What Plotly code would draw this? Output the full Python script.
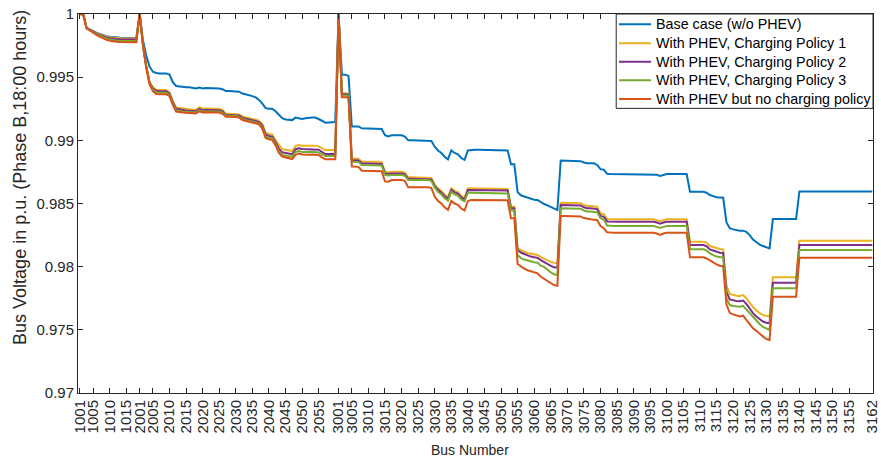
import plotly.graph_objects as go

# Bus numbers (x categories)
bus_g1 = [str(b) for b in range(1001, 1019)]
bus_g2 = [str(b) for b in range(2001, 2061)]
bus_g3 = [str(b) for b in range(3001, 3163)]
buses = bus_g1 + bus_g2 + bus_g3

tick_labels = ["1001", "1005", "1010", "1015",
               "2001", "2005", "2010", "2015", "2020", "2025", "2030", "2035", "2040", "2045", "2050", "2055",
               "3001", "3005", "3010", "3015", "3020", "3025", "3030", "3035", "3040", "3045", "3050", "3055",
               "3060", "3065", "3070", "3075", "3080", "3085", "3090", "3095", "3100", "3105", "3110", "3115",
               "3120", "3125", "3130", "3135", "3140", "3145", "3150", "3155", "3162"]

y_ticks = [0.97, 0.975, 0.98, 0.985, 0.99, 0.995, 1.0]
y_ticktext = ["0.97", "0.975", "0.98", "0.985", "0.99", "0.995", "1"]

x_title = "Bus Number"
y_title = "Bus Voltage in p.u. (Phase B,18:00 hours)"

# ---------------- Base case (w/o PHEV) ----------------
base_g1 = [1.0, 0.99995, 0.9989, 0.9988, 0.99865, 0.9985, 0.9984, 0.9983, 0.99825, 0.9982,
           0.99815, 0.99815, 0.99812, 0.99812, 0.9981, 0.9981, 0.9981, 0.9981]
base_g2 = [1.0, 0.9979, 0.9967, 0.99583, 0.99543, 0.99533, 0.9953, 0.9953, 0.9953, 0.9952,
           0.9946, 0.9943, 0.99425, 0.99422, 0.9942, 0.9942, 0.99415, 0.9941, 0.99418, 0.9941,
           0.99415, 0.99415, 0.99415, 0.99415, 0.9941, 0.99405, 0.9939, 0.9939, 0.9939, 0.9939,
           0.99385, 0.9937, 0.99365, 0.9936, 0.9935, 0.9934, 0.9932, 0.9929, 0.99255, 0.9925,
           0.9925, 0.9923, 0.992, 0.99175, 0.99165, 0.99165, 0.9916, 0.9918, 0.99175, 0.9917,
           0.99175, 0.9918, 0.9918, 0.9918, 0.9917, 0.99155, 0.9914, 0.9914, 0.9914, 0.99145]
base_g3 = [1.0, 0.9952, 0.9952, 0.9951, 0.9911, 0.9911, 0.9911, 0.99095, 0.99095, 0.99095, 0.99095, 0.99095, 0.99095,
           0.9909, 0.9904, 0.9903, 0.9904, 0.99042, 0.99042, 0.9904, 0.9903, 0.99, 0.99, 0.99, 0.99, 0.99, 0.99, 0.99, 0.98995,
           0.9895, 0.9892, 0.989, 0.9887, 0.9885, 0.9892, 0.989, 0.9889, 0.9886, 0.98845,
           0.9892, 0.98925, 0.98925, 0.98925, 0.98925, 0.98925, 0.98925, 0.98924, 0.98923, 0.98922, 0.98921, 0.9892, 0.9892,
           0.9881, 0.9881, 0.9859, 0.98565, 0.98555, 0.98545, 0.98535, 0.9853, 0.98528, 0.9851, 0.98496, 0.98485, 0.98472, 0.98458, 0.98448,
           0.9884, 0.9884, 0.9884, 0.9884, 0.98838, 0.98838, 0.98835, 0.98825, 0.98818, 0.98818, 0.98818, 0.98805, 0.98772, 0.98768, 0.98735,
           0.98733, 0.98733, 0.98733, 0.98733, 0.98733, 0.98733, 0.98733, 0.98733, 0.98733, 0.98733, 0.98733, 0.98733, 0.98733, 0.98733,
           0.98728, 0.98718, 0.98725, 0.98733, 0.98733, 0.98733, 0.98733, 0.98733, 0.98733, 0.98733,
           0.98593, 0.98593, 0.98593, 0.98593, 0.98593, 0.98585, 0.98567, 0.98558, 0.98549, 0.98547, 0.98545,
           0.9835, 0.98304, 0.98295, 0.98288, 0.98285, 0.98285, 0.98275, 0.9825, 0.98215, 0.98195, 0.98175, 0.98163, 0.98152, 0.98145,
           0.98377, 0.98377, 0.98377, 0.98377, 0.98377, 0.98377, 0.98377, 0.98377,
           0.98595, 0.98595, 0.98595, 0.98595, 0.98595, 0.98595, 0.98595, 0.98595, 0.98595, 0.98595, 0.98595, 0.98595,
           0.98595, 0.98595, 0.98595, 0.98595, 0.98595, 0.98595, 0.98595, 0.98595, 0.98595, 0.98595, 0.98595]

# ---------------- Charging Policy 1 ----------------
p1_g1 = [1.0, 0.99995, 0.99888, 0.99878, 0.99862, 0.99847, 0.99836, 0.99826, 0.9982, 0.99815,
         0.9981, 0.9981, 0.99808, 0.99808, 0.99806, 0.99806, 0.99806, 0.99806]
p1_g2 = [1.0, 0.9976, 0.9959, 0.9946, 0.9942, 0.994, 0.99398, 0.99398, 0.99398, 0.9938,
         0.9931, 0.9926, 0.99255, 0.9925, 0.99248, 0.99246, 0.99244, 0.99242, 0.9926, 0.9925,
         0.99252, 0.99252, 0.99252, 0.99252, 0.9925, 0.9924, 0.9921, 0.9921, 0.9921, 0.99208,
         0.99205, 0.99188, 0.9918, 0.99175, 0.9917, 0.99165, 0.99155, 0.9913, 0.9906, 0.9905,
         0.99045, 0.99, 0.9896, 0.9893, 0.98925, 0.9892, 0.98915, 0.98955, 0.98962, 0.98957,
         0.98955, 0.98957, 0.98958, 0.98958, 0.98952, 0.98935, 0.98923, 0.98923, 0.98923, 0.98923]
p1_g3 = [1.0, 0.99372, 0.99372, 0.9937, 0.98858, 0.98858, 0.98855, 0.98831, 0.98831, 0.98831, 0.98831, 0.98831, 0.98831,
         0.98825, 0.98752, 0.98748, 0.98752, 0.98752, 0.98752, 0.98752, 0.98745, 0.98707, 0.98707, 0.98707, 0.98707, 0.98707, 0.98707, 0.98707, 0.98702,
         0.9865, 0.9862, 0.986, 0.9857, 0.9855, 0.9862, 0.986, 0.9859, 0.9856, 0.98545,
         0.9862, 0.9862, 0.9862, 0.9862, 0.9862, 0.9862, 0.9862, 0.9862, 0.9862, 0.9862, 0.9862, 0.9862, 0.98615,
         0.98475, 0.98475, 0.98145, 0.98128, 0.98118, 0.98108, 0.98102, 0.98096, 0.98092, 0.98075, 0.98062, 0.9805, 0.98038, 0.9803, 0.98026,
         0.98506, 0.98506, 0.98506, 0.98506, 0.98506, 0.98506, 0.98503, 0.98488, 0.9848, 0.9848, 0.98478, 0.98474, 0.98422, 0.98415, 0.98377,
         0.98375, 0.98375, 0.98375, 0.98375, 0.98375, 0.98375, 0.98375, 0.98375, 0.98375, 0.98375, 0.98375, 0.98375, 0.98375, 0.98375,
         0.98368, 0.9836, 0.98368, 0.98375, 0.98375, 0.98375, 0.98375, 0.98375, 0.98375, 0.98375,
         0.98198, 0.98198, 0.98198, 0.98198, 0.98198, 0.9819, 0.98163, 0.98155, 0.98145, 0.9814, 0.98137,
         0.9785, 0.97784, 0.97775, 0.9777, 0.97768, 0.97775, 0.9775, 0.97715, 0.9768, 0.97655, 0.97632, 0.97618, 0.97608, 0.97604,
         0.97916, 0.97916, 0.97916, 0.97916, 0.97916, 0.97916, 0.97916, 0.97916,
         0.98205, 0.98205, 0.98205, 0.98205, 0.98205, 0.98205, 0.98205, 0.98205, 0.98205, 0.98205, 0.98205, 0.98205,
         0.98205, 0.98205, 0.98205, 0.98205, 0.98205, 0.98205, 0.98205, 0.98205, 0.98205, 0.98205, 0.98205]

# ---------------- Charging Policy 2 ----------------
p2_g1 = [1.0, 0.99995, 0.99887, 0.99876, 0.9986, 0.99843, 0.99832, 0.99821, 0.99814, 0.99808,
         0.99803, 0.99802, 0.998, 0.998, 0.99798, 0.99798, 0.99798, 0.99798]
p2_g2 = [1.0, 0.99755, 0.99585, 0.99455, 0.99412, 0.99392, 0.99388, 0.99388, 0.99388, 0.9937,
         0.993, 0.9925, 0.99244, 0.99239, 0.99237, 0.99235, 0.99233, 0.99231, 0.99249, 0.99239,
         0.99241, 0.99241, 0.99241, 0.99241, 0.99239, 0.99229, 0.99201, 0.99201, 0.99201, 0.99199,
         0.99196, 0.99178, 0.9917, 0.99165, 0.99159, 0.99154, 0.99144, 0.99115, 0.99045, 0.99035,
         0.9903, 0.98985, 0.98935, 0.98905, 0.989, 0.98895, 0.9889, 0.9893, 0.98937, 0.98931,
         0.9893, 0.98931, 0.98932, 0.98932, 0.98926, 0.98908, 0.98892, 0.98892, 0.98892, 0.98892]
p2_g3 = [1.0, 0.99365, 0.99365, 0.99363, 0.98844, 0.98844, 0.98841, 0.98818, 0.98818, 0.98818, 0.98818, 0.98818, 0.98818,
         0.98812, 0.98738, 0.98734, 0.98738, 0.98738, 0.98738, 0.98738, 0.98731, 0.98695, 0.98695, 0.98695, 0.98695, 0.98695, 0.98695, 0.98695, 0.9869,
         0.98638, 0.98608, 0.98588, 0.98558, 0.98538, 0.98608, 0.98588, 0.98578, 0.98548, 0.98533,
         0.98607, 0.98607, 0.98607, 0.98607, 0.98607, 0.98607, 0.98607, 0.98607, 0.98607, 0.98607, 0.98607, 0.98607, 0.98602,
         0.98462, 0.98462, 0.98132, 0.98112, 0.981, 0.98088, 0.9808, 0.98075, 0.9807, 0.98052, 0.98036, 0.9802, 0.98006, 0.97996, 0.97992,
         0.98488, 0.98488, 0.98488, 0.98488, 0.98488, 0.98488, 0.98485, 0.9847, 0.98462, 0.98462, 0.9846, 0.98456, 0.98402, 0.98395, 0.98358,
         0.98356, 0.98356, 0.98356, 0.98356, 0.98356, 0.98356, 0.98356, 0.98356, 0.98356, 0.98356, 0.98356, 0.98356, 0.98356, 0.98356,
         0.98349, 0.98341, 0.98349, 0.98356, 0.98356, 0.98356, 0.98356, 0.98356, 0.98356, 0.98356,
         0.98171, 0.98171, 0.98171, 0.98171, 0.98171, 0.98162, 0.98137, 0.98128, 0.98117, 0.9811, 0.98108,
         0.978, 0.97741, 0.97732, 0.97728, 0.97726, 0.97732, 0.97706, 0.97668, 0.97632, 0.97606, 0.97582, 0.97566, 0.97556, 0.97551,
         0.97873, 0.97873, 0.97873, 0.97873, 0.97873, 0.97873, 0.97873, 0.97873,
         0.98171, 0.98171, 0.98171, 0.98171, 0.98171, 0.98171, 0.98171, 0.98171, 0.98171, 0.98171, 0.98171, 0.98171,
         0.98171, 0.98171, 0.98171, 0.98171, 0.98171, 0.98171, 0.98171, 0.98171, 0.98171, 0.98171, 0.98171]

# ---------------- Charging Policy 3 ----------------
p3_g1 = [1.0, 0.99995, 0.99887, 0.99875, 0.99857, 0.99838, 0.99826, 0.99814, 0.99806, 0.99798,
         0.99792, 0.9979, 0.99788, 0.99788, 0.99786, 0.99786, 0.99786, 0.99786]
p3_g2 = [1.0, 0.99752, 0.9958, 0.9945, 0.99403, 0.9938, 0.99377, 0.99377, 0.99377, 0.9936,
         0.9929, 0.99238, 0.99232, 0.99229, 0.99227, 0.99225, 0.99223, 0.99221, 0.99239, 0.99229,
         0.99231, 0.99231, 0.99231, 0.99231, 0.99229, 0.99219, 0.99194, 0.99194, 0.99194, 0.99192,
         0.99188, 0.99169, 0.99161, 0.99156, 0.9915, 0.99145, 0.99135, 0.991, 0.9903, 0.9902,
         0.99015, 0.9897, 0.98915, 0.98885, 0.9888, 0.98875, 0.9887, 0.98908, 0.98915, 0.98908,
         0.98906, 0.98908, 0.98909, 0.98909, 0.98904, 0.98889, 0.98876, 0.98876, 0.98876, 0.98876]
p3_g3 = [1.0, 0.99355, 0.99355, 0.99353, 0.98831, 0.98831, 0.98828, 0.98805, 0.98805, 0.98805, 0.98805, 0.98805, 0.98805,
         0.988, 0.98726, 0.98722, 0.98726, 0.98726, 0.98726, 0.98726, 0.9872, 0.98686, 0.98686, 0.98686, 0.98686, 0.98686, 0.98686, 0.98686, 0.9868,
         0.98625, 0.98592, 0.98572, 0.98542, 0.98522, 0.98592, 0.98572, 0.98562, 0.98532, 0.98517,
         0.98585, 0.98585, 0.98585, 0.98585, 0.98585, 0.98585, 0.98585, 0.98585, 0.98585, 0.98585, 0.98585, 0.98585, 0.9858,
         0.98445, 0.98445, 0.98092, 0.98068, 0.98056, 0.98047, 0.9804, 0.98035, 0.98031, 0.98008, 0.97998, 0.97975, 0.97955, 0.9794, 0.97934,
         0.98462, 0.98462, 0.98462, 0.98462, 0.98462, 0.98462, 0.98459, 0.98445, 0.98437, 0.98437, 0.98435, 0.98431, 0.98383, 0.98372, 0.98325,
         0.98322, 0.98322, 0.98322, 0.98322, 0.98322, 0.98322, 0.98322, 0.98322, 0.98322, 0.98322, 0.98322, 0.98322, 0.98322, 0.98322,
         0.98315, 0.98306, 0.98315, 0.98322, 0.98322, 0.98322, 0.98322, 0.98322, 0.98322, 0.98322,
         0.98137, 0.98137, 0.98137, 0.98137, 0.98137, 0.98128, 0.98104, 0.98092, 0.9808, 0.98076, 0.98074,
         0.9775, 0.97696, 0.97688, 0.97684, 0.97683, 0.9769, 0.9766, 0.97628, 0.976, 0.97572, 0.97546, 0.97524, 0.97508, 0.97499,
         0.97829, 0.97829, 0.97829, 0.97829, 0.97829, 0.97829, 0.97829, 0.97829,
         0.98132, 0.98132, 0.98132, 0.98132, 0.98132, 0.98132, 0.98132, 0.98132, 0.98132, 0.98132, 0.98132, 0.98132,
         0.98132, 0.98132, 0.98132, 0.98132, 0.98132, 0.98132, 0.98132, 0.98132, 0.98132, 0.98132, 0.98132]

# ---------------- With PHEV but no charging policy ----------------
np_g1 = [1.0, 0.99995, 0.99887, 0.99873, 0.99853, 0.99832, 0.99818, 0.99805, 0.99795, 0.99788,
         0.99782, 0.9978, 0.99778, 0.99778, 0.99776, 0.99776, 0.99776, 0.99776]
np_g2 = [1.0, 0.9975, 0.9957, 0.9944, 0.9939, 0.99366, 0.99364, 0.99364, 0.99364, 0.9935,
         0.9928, 0.99228, 0.99222, 0.9922, 0.99218, 0.99216, 0.99214, 0.99212, 0.9923, 0.9922,
         0.99222, 0.99222, 0.99222, 0.99222, 0.9922, 0.9921, 0.99187, 0.99187, 0.99187, 0.99185,
         0.9918, 0.9916, 0.99153, 0.99148, 0.99142, 0.99138, 0.99128, 0.9909, 0.99018, 0.99008,
         0.99003, 0.9896, 0.989, 0.98872, 0.98865, 0.98858, 0.98852, 0.98885, 0.98895, 0.98888,
         0.98885, 0.98886, 0.98888, 0.98888, 0.98884, 0.98865, 0.9885, 0.9885, 0.9885, 0.9885]
np_g3 = [1.0, 0.99341, 0.99341, 0.9934, 0.98792, 0.98792, 0.9879, 0.9876, 0.9876, 0.9876, 0.9876, 0.9876, 0.9876,
         0.98755, 0.98675, 0.98673, 0.98686, 0.98686, 0.98686, 0.98686, 0.9868, 0.98628, 0.98628, 0.98628, 0.98628, 0.98628, 0.98628, 0.98628, 0.98622,
         0.98555, 0.9852, 0.985, 0.9847, 0.9845, 0.9852, 0.985, 0.9849, 0.9846, 0.98445,
         0.9852, 0.98528, 0.98528, 0.98528, 0.98528, 0.98528, 0.98528, 0.98528, 0.98528, 0.98528, 0.98528, 0.98528, 0.98525,
         0.98383, 0.98383, 0.98021, 0.98, 0.97985, 0.97972, 0.97965, 0.97955, 0.97947, 0.9792, 0.97902, 0.97885, 0.97868, 0.97855, 0.97849,
         0.98401, 0.98401, 0.98401, 0.98401, 0.98401, 0.98401, 0.98398, 0.98385, 0.98377, 0.98375, 0.98372, 0.98369, 0.98322, 0.98304, 0.98272,
         0.98269, 0.98269, 0.98269, 0.98269, 0.98269, 0.98269, 0.98269, 0.98269, 0.98269, 0.98269, 0.98269, 0.98269, 0.98269, 0.98269,
         0.98262, 0.98252, 0.98262, 0.98269, 0.98269, 0.98269, 0.98269, 0.98269, 0.98269, 0.98269,
         0.98074, 0.98074, 0.98074, 0.98074, 0.98074, 0.98065, 0.98047, 0.98035, 0.98018, 0.98008, 0.98006,
         0.977, 0.97635, 0.97622, 0.97612, 0.97605, 0.97612, 0.97578, 0.97545, 0.97512, 0.97492, 0.97467, 0.97448, 0.97428, 0.97419,
         0.97762, 0.97762, 0.97762, 0.97762, 0.97762, 0.97762, 0.97762, 0.97762,
         0.98071, 0.98071, 0.98071, 0.98071, 0.98071, 0.98071, 0.98071, 0.98071, 0.98071, 0.98071, 0.98071, 0.98071,
         0.98071, 0.98071, 0.98071, 0.98071, 0.98071, 0.98071, 0.98071, 0.98071, 0.98071, 0.98071, 0.98071]

series_names = ["Base case (w/o PHEV)", "With PHEV, Charging Policy 1", "With PHEV, Charging Policy 2",
                "With PHEV, Charging Policy 3", "With PHEV but no charging policy"]
series_values = [base_g1 + base_g2 + base_g3, p1_g1 + p1_g2 + p1_g3, p2_g1 + p2_g2 + p2_g3,
                 p3_g1 + p3_g2 + p3_g3, np_g1 + np_g2 + np_g3]
series_colors = ["#0072BD", "#EDB120", "#7E2F8E", "#77AC30", "#D95319"]

fig = go.Figure()
for name, vals, color in zip(series_names, series_values, series_colors):
    fig.add_trace(go.Scatter(x=buses, y=vals, mode="lines", name=name,
                             line=dict(color=color, width=2)))

axis_color = "#262626"

# MATLAB-style legend box (top-right, inside the axes)
leg_left, leg_right, leg_bottom, leg_top = 0.677, 1.0, 0.751, 1.0
leg_rows = [0.9728, 0.9227, 0.8742, 0.8251, 0.7757]
shapes = [dict(type="rect", xref="x domain", yref="y domain", x0=leg_left, x1=leg_right,
               y0=leg_bottom, y1=leg_top, fillcolor="white",
               line=dict(color=axis_color, width=1), layer="above")]
annotations = []
for name, color, yy in zip(series_names, series_colors, leg_rows):
    shapes.append(dict(type="line", xref="x domain", yref="y domain", x0=0.6805, x1=0.7208,
                       y0=yy, y1=yy, line=dict(color=color, width=2), layer="above"))
    annotations.append(dict(xref="x domain", yref="y domain", x=0.7245, y=yy, text=name,
                            xanchor="left", yanchor="middle", showarrow=False,
                            font=dict(size=14.3, color="#000000")))

# axis titles (placed like the MATLAB figure)
annotations.append(dict(xref="x domain", yref="y domain", x=0.4931, y=-0.1504, text=x_title,
                        xanchor="center", yanchor="middle", showarrow=False,
                        font=dict(size=14, color=axis_color)))
annotations.append(dict(xref="x domain", yref="y domain", x=-0.0730, y=0.570, text=y_title,
                        textangle=-90, xanchor="center", yanchor="middle", showarrow=False,
                        font=dict(size=18, color=axis_color)))

fig.update_layout(
    width=881, height=459,
    margin=dict(l=78, r=8, t=14, b=66),
    paper_bgcolor="white", plot_bgcolor="white",
    font=dict(family="Liberation Sans, Arial, sans-serif", size=15, color=axis_color),
    showlegend=False,
    shapes=shapes, annotations=annotations,
)
fig.update_xaxes(
    type="category", categoryorder="array", categoryarray=buses,
    tickmode="array", tickvals=tick_labels, ticktext=tick_labels, tickangle=-90,
    ticks="inside", ticklen=5, tickcolor=axis_color,
    showline=True, linecolor=axis_color, linewidth=1, mirror="ticks",
    showgrid=False, zeroline=False, range=[-0.6, 239.2], automargin=False,
)
fig.update_yaxes(
    range=[0.97, 1.0], tickmode="array", tickvals=y_ticks, ticktext=y_ticktext,
    ticks="inside", ticklen=5, tickcolor=axis_color,
    showline=True, linecolor=axis_color, linewidth=1, mirror="ticks",
    showgrid=False, zeroline=False, automargin=False,
)

fig.write_html("out.html")
